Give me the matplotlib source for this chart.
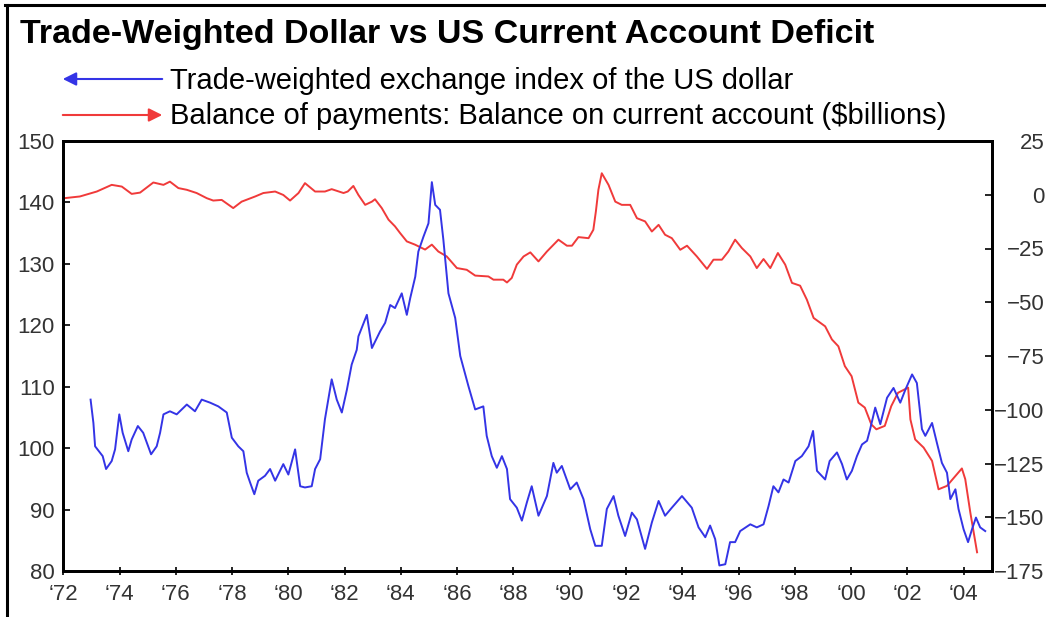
import matplotlib
matplotlib.use("Agg")
import matplotlib.pyplot as plt
from matplotlib.lines import Line2D
from matplotlib.patches import FancyArrowPatch

plt.rcParams['font.family'] = ['Liberation Sans', 'DejaVu Sans']

# trade-weighted dollar index (left axis)
dollar_years = [1972.97, 1973.07, 1973.13, 1973.40, 1973.52, 1973.72, 1973.84, 1973.99,
                1974.11, 1974.31, 1974.43, 1974.65, 1974.84, 1975.12, 1975.32, 1975.44,
                1975.56, 1975.79, 1976.03, 1976.39, 1976.68, 1976.92, 1977.22, 1977.51,
                1977.81, 1977.99, 1978.22, 1978.40, 1978.52, 1978.64, 1978.79, 1978.93,
                1979.17, 1979.35, 1979.53, 1979.82, 1980.00, 1980.24, 1980.42, 1980.59,
                1980.83, 1980.95, 1981.13, 1981.30, 1981.54, 1981.72, 1981.90, 1982.08,
                1982.25, 1982.43, 1982.49, 1982.79, 1982.97, 1983.26, 1983.44, 1983.62,
                1983.79, 1984.03, 1984.21, 1984.33, 1984.51, 1984.62, 1984.80, 1984.98,
                1985.10, 1985.22, 1985.39, 1985.51, 1985.69, 1985.93, 1986.11, 1986.40,
                1986.64, 1986.93, 1987.05, 1987.23, 1987.41, 1987.59, 1987.77, 1987.88,
                1988.12, 1988.30, 1988.48, 1988.65, 1988.89, 1989.19, 1989.42, 1989.54,
                1989.72, 1990.02, 1990.25, 1990.49, 1990.73, 1990.91, 1991.14, 1991.32,
                1991.56, 1991.73, 1991.97, 1992.21, 1992.39, 1992.68, 1992.92, 1993.16,
                1993.39, 1993.63, 1993.99, 1994.34, 1994.58, 1994.82, 1994.99, 1995.17,
                1995.32, 1995.53, 1995.70, 1995.88, 1996.06, 1996.42, 1996.65, 1996.89,
                1997.07, 1997.24, 1997.42, 1997.60, 1997.78, 1998.02, 1998.25, 1998.49,
                1998.65, 1998.79, 1999.08, 1999.24, 1999.50, 1999.68, 1999.85, 2000.03,
                2000.21, 2000.39, 2000.57, 2000.68, 2000.86, 2001.04, 2001.28, 2001.51,
                2001.75, 2001.93, 2002.17, 2002.34, 2002.52, 2002.64, 2002.88, 2003.05,
                2003.23, 2003.41, 2003.53, 2003.71, 2003.82, 2004.00, 2004.16, 2004.30,
                2004.44, 2004.59, 2004.77]
dollar_index = [107.9, 104.1, 100.3, 98.7, 96.6, 97.9, 99.8, 105.5,
                102.5, 99.5, 101.4, 103.6, 102.5, 99.0, 100.3, 102.5,
                105.5, 106.0, 105.5, 107.1, 106.0, 107.9, 107.4, 106.8,
                105.8, 101.7, 100.3, 99.5, 96.0, 94.4, 92.5, 94.7,
                95.5, 96.6, 94.7, 97.4, 95.7, 99.8, 93.8, 93.6,
                93.8, 96.6, 98.2, 104.7, 111.2, 107.9, 105.8, 109.5,
                113.6, 116.0, 118.2, 121.7, 116.3, 119.0, 120.4, 123.3,
                122.8, 125.2, 121.7, 124.4, 127.9, 132.0, 134.4, 136.6,
                143.3, 139.6, 138.8, 133.9, 125.2, 121.2, 115.0, 110.1,
                106.3, 106.8, 102.0, 98.7, 96.8, 98.7, 96.6, 91.7,
                90.3, 88.2, 91.2, 93.8, 89.0, 92.2, 97.6, 96.0,
                97.1, 93.3, 94.4, 91.7, 86.8, 84.1, 84.1, 90.1,
                92.2, 89.0, 85.7, 89.5, 88.4, 83.6, 87.9, 91.4,
                89.0, 90.3, 92.2, 90.3, 87.1, 85.5, 87.4, 85.2,
                80.9, 81.1, 84.7, 84.7, 86.5, 87.6, 87.1, 87.6,
                90.6, 93.8, 92.8, 94.9, 94.4, 97.9, 98.7, 100.3,
                102.8, 96.3, 94.9, 97.9, 99.3, 97.4, 94.9, 96.3,
                98.7, 100.6, 101.2, 103.1, 106.6, 103.9, 108.2, 109.8,
                107.4, 109.5, 112.0, 110.6, 103.1, 102.0, 104.1, 100.9,
                97.6, 96.0, 91.7, 93.3, 90.1, 86.8, 84.7, 86.8,
                88.7, 87.1, 86.5]

# current account balance, $ billions (right axis)
ca_years = [1972.03, 1972.59, 1973.19, 1973.72, 1974.08, 1974.43, 1974.73, 1975.20,
            1975.56, 1975.79, 1976.09, 1976.39, 1976.74, 1977.10, 1977.33, 1977.63,
            1978.04, 1978.34, 1978.82, 1979.11, 1979.53, 1979.82, 1980.06, 1980.36,
            1980.59, 1980.95, 1981.30, 1981.54, 1981.96, 1982.11, 1982.31, 1982.49,
            1982.73, 1982.97, 1983.08, 1983.32, 1983.56, 1983.79, 1983.97, 1984.21,
            1984.50, 1984.86, 1985.10, 1985.33, 1985.63, 1985.99, 1986.34, 1986.64,
            1987.11, 1987.29, 1987.64, 1987.77, 1987.94, 1988.12, 1988.36, 1988.60,
            1988.89, 1989.19, 1989.60, 1989.90, 1990.08, 1990.31, 1990.67, 1990.84,
            1990.93, 1991.02, 1991.14, 1991.38, 1991.62, 1991.85, 1992.15, 1992.39,
            1992.68, 1992.92, 1993.16, 1993.39, 1993.63, 1993.93, 1994.17, 1994.52,
            1994.88, 1995.11, 1995.41, 1995.64, 1995.88, 1996.12, 1996.42, 1996.65,
            1996.89, 1997.13, 1997.40, 1997.66, 1997.90, 1998.19, 1998.43, 1998.67,
            1999.08, 1999.32, 1999.55, 1999.78, 2000.02, 2000.26, 2000.49, 2000.72,
            2000.90, 2001.20, 2001.43, 2001.67, 2002.03, 2002.11, 2002.28, 2002.58,
            2002.88, 2003.11, 2003.41, 2003.94, 2004.06, 2004.24, 2004.48]
ca_balance = [-1.6, -0.8, 1.5, 4.6, 3.8, 0.4, 1.0, 5.7,
              4.6, 6.1, 3.1, 2.3, 0.8, -1.6, -2.7, -2.4,
              -6.2, -3.2, -0.8, 0.8, 1.5, -0.1, -2.7, 0.8,
              5.4, 1.5, 1.5, 2.6, 0.8, 1.5, 4.1, -0.1,
              -4.7, -3.2, -2.1, -6.2, -11.6, -14.7, -17.8, -21.7,
              -23.2, -25.5, -23.2, -26.4, -28.7, -34.1, -34.9, -37.6,
              -38.0, -39.5, -39.5, -40.8, -38.7, -32.5, -28.7, -26.8,
              -31.0, -26.4, -20.9, -23.7, -23.7, -19.7, -20.2, -16.3,
              -7.8, 2.3, 10.0, 4.6, -3.2, -4.7, -4.7, -10.9,
              -12.4, -17.1, -14.0, -18.6, -20.2, -25.6, -23.7, -28.7,
              -34.5, -30.2, -30.2, -26.4, -20.9, -24.8, -28.7, -34.1,
              -29.9, -34.1, -27.1, -32.5, -41.0, -42.3, -48.8, -57.3,
              -61.2, -67.3, -70.5, -79.7, -84.4, -96.7, -99.0, -106.8,
              -109.1, -107.5, -98.3, -92.1, -89.7, -104.5, -113.8, -117.6,
              -123.8, -137.0, -135.4, -127.3, -132.3, -147.8, -166.3]

year_ticks = list(range(1972, 2005, 2))
year_labels = ["\u2018%02d" % (y % 100) for y in year_ticks]
left_ticks = list(range(80, 151, 10))
right_ticks = list(range(-175, 26, 25))

title = "Trade-Weighted Dollar vs US Current Account Deficit"
label_dollar = "Trade-weighted exchange index of the US dollar"
label_ca = "Balance of payments: Balance on current account ($billions)"

BLUE = '#3434e6'
RED = '#f03a3a'
TICK = '#333333'

W, H = 1046, 617
fig = plt.figure(figsize=(W / 100, H / 100), dpi=100)
ax = fig.add_axes([63.3 / W, 1 - 571 / H, (991.7 - 63.3) / W, (571 - 141) / H])
ax2 = ax.twinx()

# blue on top of red
ax.set_zorder(ax2.get_zorder() + 1)
ax.patch.set_visible(False)
ax2.set_facecolor('#f3f3f3')

ax2.plot(ca_years, ca_balance, color=RED, lw=1.4)
ax.plot(dollar_years, dollar_index, color=BLUE, lw=1.4)

ax.set_xlim(1972, 2005.0)
ax.set_ylim(80, 150)
ax2.set_ylim(-175, 25)

ax.set_xticks(year_ticks)
ax.set_xticklabels(year_labels)
ax.set_yticks(left_ticks)
ax2.set_yticks(right_ticks)

ax.tick_params(axis='x', direction='inout', length=6, width=1.2, pad=6,
               labelsize=16, labelcolor=TICK)
ax.tick_params(axis='y', direction='in', length=5, width=1.2, pad=6,
               labelsize=16, labelcolor=TICK)
ax2.tick_params(axis='y', direction='in', length=5, width=1.2, pad=38,
                labelsize=16, labelcolor=TICK)
for lab in ax2.get_yticklabels():
    lab.set_horizontalalignment('right')

for a in (ax, ax2):
    for s in a.spines.values():
        s.set_linewidth(2)
        s.set_color('black')

# frame lines at top and left of the picture
fig.add_artist(Line2D([5 / W, 1], [1 - 5 / H, 1 - 5 / H], color='black', lw=2.2,
                      transform=fig.transFigure))
fig.add_artist(Line2D([7 / W, 7 / W], [0, 1 - 5 / H], color='black', lw=2.2,
                      transform=fig.transFigure))

fig.text(20 / W, 1 - 43 / H, title, fontsize=24.5, fontweight='bold',
         ha='left', va='baseline')

# legend: arrows pointing to their axis
fig.add_artist(FancyArrowPatch((165 / W, 1 - 79 / H), (60 / W, 1 - 79 / H),
                               transform=fig.transFigure, arrowstyle='-|>',
                               mutation_scale=20, color=BLUE, lw=1.5))
fig.add_artist(FancyArrowPatch((60 / W, 1 - 115 / H), (165 / W, 1 - 115 / H),
                               transform=fig.transFigure, arrowstyle='-|>',
                               mutation_scale=20, color=RED, lw=1.5))
fig.text(170 / W, 1 - 89 / H, label_dollar, fontsize=21, ha='left', va='baseline')
fig.text(170 / W, 1 - 124 / H, label_ca, fontsize=21, ha='left', va='baseline')

fig.savefig('out.png', dpi=100)
